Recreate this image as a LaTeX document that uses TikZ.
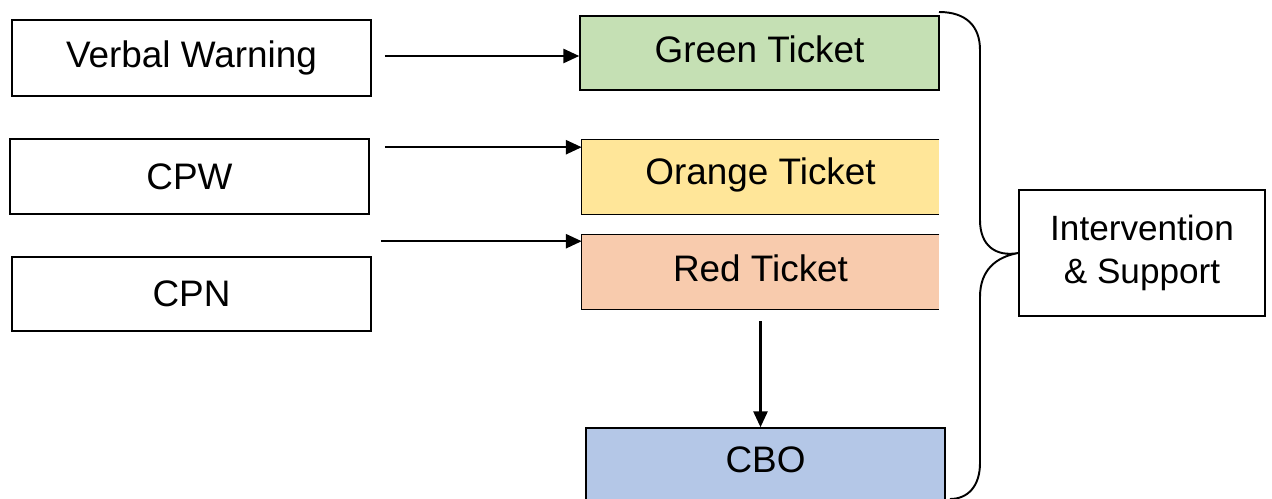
\documentclass[tikz,border=0pt]{standalone}
\usepackage{fontspec}
\setmainfont{Liberation Sans}
\usetikzlibrary{arrows.meta,calc}
\definecolor{gfill}{HTML}{C5E0B4}
\definecolor{ofill}{HTML}{FFE699}
\definecolor{rfill}{HTML}{F8CBAD}
\definecolor{bfill}{HTML}{B4C7E7}
\tikzset{
  box/.style={draw=black, line width=0.9pt, inner sep=0pt, minimum width=7.18cm, font=\fontsize{21}{25}\selectfont},
  openbox/.style={inner sep=0pt, minimum width=7.14cm, minimum height=1.48cm, font=\fontsize{21}{25}\selectfont},
  ttext/.style={text height=0.6cm, text depth=0.2cm},
  arr/.style={line width=1.3pt, -{Triangle[length=9pt,width=8pt]}},
  brace/.style={line width=1.1pt}
}
\begin{document}
\begin{tikzpicture}[x=0.02cm,y=-0.02cm]
\clip (0,0) rectangle (1272,499);
\fill[white] (0,0) rectangle (1272,499);
% left boxes
\node[box, minimum height=1.52cm] (V) at (191.5,58) {Verbal Warning};
\node[box, minimum height=1.50cm] (W) at (189.5,176.5) {CPW};
\node[box, minimum height=1.48cm] (N) at (191.5,294) {CPN};
% tickets
\node[box, fill=gfill, minimum height=1.48cm, ttext] (G) at (759.5,53) {Green Ticket};
\node[openbox, fill=ofill, text height=0.58cm, text depth=0.26cm] (O) at (760.5,177) {Orange Ticket};
\draw[line width=0.9pt] (O.north east) -- (O.north west) -- (O.south west) -- (O.south east);
\node[openbox, fill=rfill, ttext] (R) at (760.5,272) {Red Ticket};
\draw[line width=0.9pt] (R.north east) -- (R.north west) -- (R.south west) -- (R.south east);
\node[box, fill=bfill, minimum height=1.80cm, text height=0.5cm, text depth=0.5cm] (C) at (765.5,473) {CBO};
% intervention
\node[box, minimum width=4.92cm, minimum height=2.52cm, align=center, font=\fontsize{20}{24.4}\selectfont] (I) at (1142,253) {Intervention\\\& Support};
% arrows
\coordinate (a1) at ($(V.east)+(0.26cm,0.04cm)$);
\coordinate (a2) at ($(W.north east)+(0.30cm,-0.18cm)$);
\coordinate (a3) at ($(N.north east)+(0.18cm,0.30cm)$);
\coordinate (a4) at ($(R.south)+(0,-0.24cm)$);
\draw[arr] (a1) -- (a1 -| G.west);
\draw[arr] (a2) -- (a2 -| O.west);
\draw[arr] (a3) -- (a3 -| R.west);
\draw[arr] (a4) -- (a4 |- C.north);
% brace
\coordinate (bt) at (939,12);
\coordinate (bb) at (950,499);
\draw[brace] (bt) .. controls (966,12) and (980,26) .. (980,50) -- (980,220)
  .. controls (980,246) and (996,257) .. (I.west)
  .. controls (996,257) and (980,270) .. (980,297) -- (980,463)
  .. controls (980,486) and (968,499) .. (bb);
\end{tikzpicture}
\end{document}
